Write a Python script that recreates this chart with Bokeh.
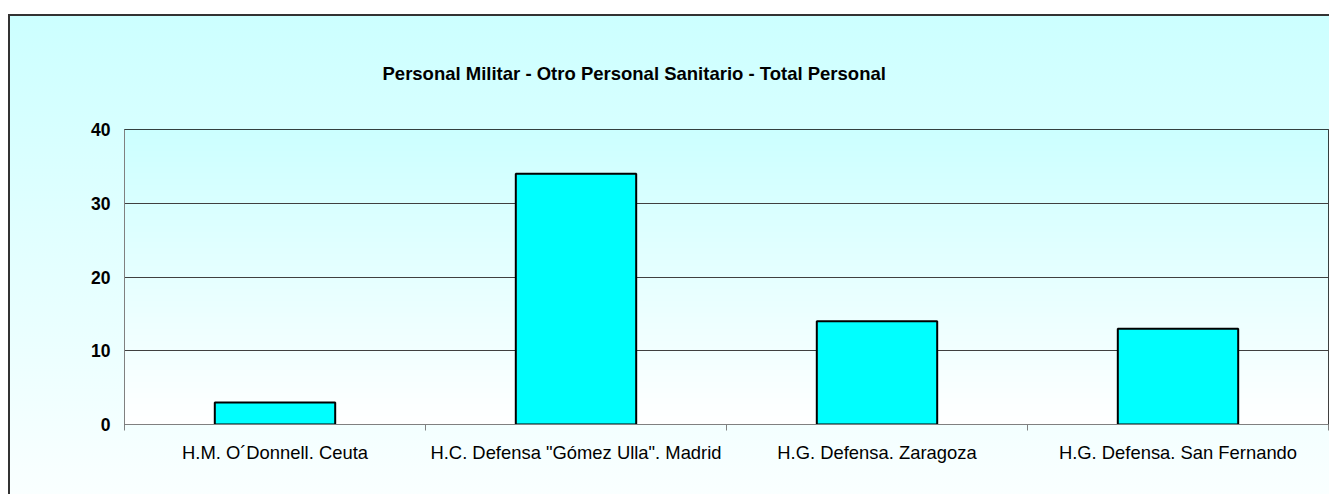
import numpy as np
from bokeh.plotting import figure
from bokeh.models import Range1d, FixedTicker, Title, ColumnDataSource
from bokeh.embed import file_html
from bokeh.resources import INLINE

categories = ["H.M. O\u00b4Donnell. Ceuta",
              "H.C. Defensa \"G\u00f3mez Ulla\". Madrid",
              "H.G. Defensa. Zaragoza",
              "H.G. Defensa. San Fernando"]
values = [3, 34, 14, 13]
y_ticks = [0, 10, 20, 30, 40]
title_text = "Personal Militar - Otro Personal Sanitario - Total Personal"

n = len(categories)
centers = [i + 0.5 for i in range(n)]
bounds = [float(i) for i in range(n + 1)]

FONT = "Liberation Sans"

p = figure(width=1329, height=494,
           x_range=Range1d(0, n), y_range=Range1d(y_ticks[0], y_ticks[-1]),
           output_backend="svg", toolbar_location=None,
           min_border_left=124, min_border_right=1,
           min_border_top=129, min_border_bottom=70,
           border_fill_color=None, background_fill_color=None,
           outline_line_color="black", outline_line_width=1)

p.styles = {
    "background-color": "#ffffff",
    "background": ("linear-gradient(#333333,#333333) 8px 14px / 100% 2px no-repeat, "
                   "linear-gradient(#333333,#333333) 8px 14px / 2px 100% no-repeat, "
                   "linear-gradient(to bottom, #ccffff, #fbffff) 8px 14px / 100% 100% no-repeat, "
                   "#ffffff")
}

# plot-area gradient background
N = 200
img = np.empty((N, 1), dtype=np.uint32)
view = img.view(dtype=np.uint8).reshape((N, 1, 4))
for i in range(N):
    t = (i + 0.5) / N
    view[i, 0, 0] = int(round(255 + (204 - 255) * t))
    view[i, 0, 1] = 255
    view[i, 0, 2] = 255
    view[i, 0, 3] = 255
p.image_rgba(image=[img], x=0, y=y_ticks[0], dw=n, dh=y_ticks[-1] - y_ticks[0], level="image")

src = ColumnDataSource(dict(x=centers, top=values, name=categories))
p.vbar(x="x", top="top", width=0.4, source=src,
       fill_color="#00ffff", line_color="black", line_width=2)

p.title = Title(text=title_text, align="left", offset=258,
                text_font=FONT, text_font_style="bold", text_font_size="18.5px",
                text_color="black", standoff=91)

xax = p.xaxis[0]
xax.ticker = FixedTicker(ticks=centers, minor_ticks=bounds)
xax.major_label_overrides = {c: lab for c, lab in zip(centers, categories)}
xax.major_tick_line_color = None
xax.major_tick_in = 0
xax.major_tick_out = 0
xax.minor_tick_in = 0
xax.minor_tick_out = 6
xax.minor_tick_line_color = "#808080"
xax.axis_line_color = "#808080"
xax.major_label_text_font = FONT
xax.major_label_text_font_size = "18.4px"
xax.major_label_text_color = "black"
xax.major_label_standoff = 11

yax = p.yaxis[0]
yticker = FixedTicker(ticks=y_ticks, minor_ticks=[])
yax.ticker = yticker
yax.major_tick_in = 0
yax.major_tick_out = 0
yax.minor_tick_line_color = None
yax.axis_line_color = "#808080"
yax.major_label_text_font = FONT
yax.major_label_text_font_style = "bold"
yax.major_label_text_font_size = "17.5px"
yax.major_label_text_color = "black"
yax.major_label_standoff = 14

p.xgrid.grid_line_color = None
p.ygrid.ticker = yticker
p.ygrid.grid_line_color = "#404040"
p.ygrid.grid_line_width = 1

open("out.html", "w").write(file_html(p, INLINE))
